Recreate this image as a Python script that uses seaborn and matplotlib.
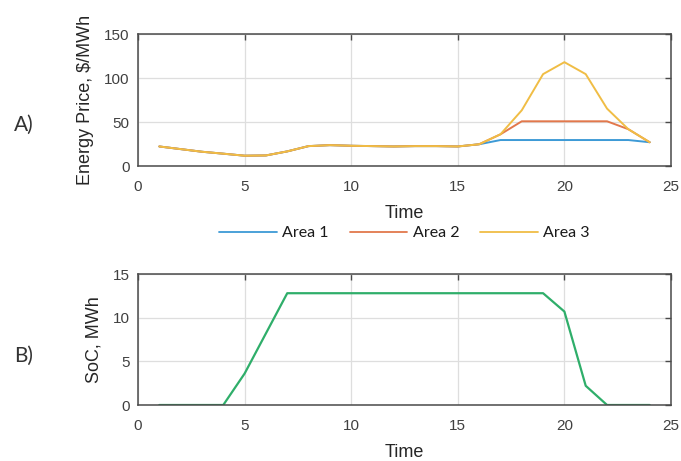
import numpy as np
import pandas as pd
import matplotlib
matplotlib.use("Agg")
import matplotlib.pyplot as plt
import seaborn as sns

# ---- data ----
time = list(range(1, 25))
area1 = [22.2, 19.2, 16.2, 14.0, 11.7, 12.0, 16.6, 22.6, 23.7, 23.0, 22.6, 22.2,
         22.6, 22.6, 22.2, 24.7, 29.5, 29.5, 29.5, 29.5, 29.5, 29.5, 29.5, 27.0]
area2 = [22.2, 19.2, 16.2, 14.0, 11.7, 12.0, 16.6, 22.6, 23.7, 23.0, 22.6, 22.2,
         22.6, 22.6, 22.2, 24.7, 36.0, 50.8, 50.8, 50.8, 50.8, 50.8, 41.8, 27.0]
area3 = [22.2, 19.2, 16.2, 14.0, 11.7, 12.0, 16.6, 22.6, 23.7, 23.0, 22.6, 22.2,
         22.6, 22.6, 22.2, 24.7, 36.0, 63.3, 104.4, 118.0, 104.4, 65.2, 41.8, 27.0]
soc = [0, 0, 0, 0, 3.6, 8.2, 12.8, 12.8, 12.8, 12.8, 12.8, 12.8,
       12.8, 12.8, 12.8, 12.8, 12.8, 12.8, 12.8, 10.7, 2.2, 0, 0, 0]
series_names = ["Area 1", "Area 2", "Area 3"]
price_ticks = [0, 50, 100, 150]
soc_ticks = [0, 5, 10, 15]
time_ticks = [0, 5, 10, 15, 20, 25]

price_df = pd.DataFrame({
    "Time": time * 3,
    "Price": area1 + area2 + area3,
    "Series": sum([[n] * len(time) for n in series_names], []),
})
soc_df = pd.DataFrame({"Time": time, "SoC": soc})

# ---- style ----
sns.set_theme(style="white")
plt.rcParams["font.family"] = ["Liberation Sans", "DejaVu Sans"]

palette = {"Area 1": "#3d9ad6", "Area 2": "#e2784c", "Area 3": "#f0bd45"}
frame_col = "#4a4a4a"
tick_col = "#404040"
grid_col = "#dedede"

fig = plt.figure(figsize=(6.81, 4.61), dpi=100)
ax1 = fig.add_axes([138 / 681, 1 - 166 / 461, 533 / 681, 132 / 461])
ax2 = fig.add_axes([138 / 681, 1 - 405 / 461, 533 / 681, 131 / 461])

sns.lineplot(data=price_df, x="Time", y="Price", hue="Series", palette=palette,
             hue_order=series_names, ax=ax1, linewidth=1.4)
sns.lineplot(data=soc_df, x="Time", y="SoC", color="#2fae6a", ax=ax2, linewidth=1.6)

for ax, yt, ylab in [(ax1, price_ticks, "Energy Price, $/MWh"), (ax2, soc_ticks, "SoC, MWh")]:
    ax.set_xlim(0, 25)
    ax.set_ylim(yt[0], yt[-1])
    ax.set_xticks(time_ticks)
    ax.set_yticks(yt)
    ax.grid(True, color=grid_col, linewidth=0.9)
    ax.set_axisbelow(True)
    for s in ax.spines.values():
        s.set_color(frame_col)
        s.set_linewidth(1.1)
    ax.tick_params(direction="in", top=True, right=True, length=4, width=1,
                   color=frame_col, labelcolor=tick_col, labelsize=11)
    ax.tick_params(axis="x", pad=10)
    ax.tick_params(axis="y", pad=6)
    ax.set_xlabel("Time", fontsize=13, color="#262626", labelpad=8)
    ax.set_ylabel(ylab, fontsize=13, color="#262626", labelpad=7)

sns.move_legend(ax1, "center", bbox_to_anchor=(0.5, -0.51), ncol=3, frameon=False,
                title=None, handlelength=3.6, handletextpad=0.35, columnspacing=1.3,
                fontsize=11.5)
for t in ax1.get_legend().get_texts():
    t.set_family(["Lato", "DejaVu Sans"])
    t.set_color("#1a1a1a")
for h in ax1.get_legend().legend_handles:
    h.set_linewidth(1.3)

fig.text(24 / 681, 1 - 125 / 461, "A)", fontsize=15, family=["Lato", "DejaVu Sans"],
         fontweight="normal", ha="center", va="center", color="#333333")
fig.text(24 / 681, 1 - 356 / 461, "B)", fontsize=15, family=["Lato", "DejaVu Sans"],
         fontweight="normal", ha="center", va="center", color="#333333")

fig.savefig("out.png", dpi=100)
